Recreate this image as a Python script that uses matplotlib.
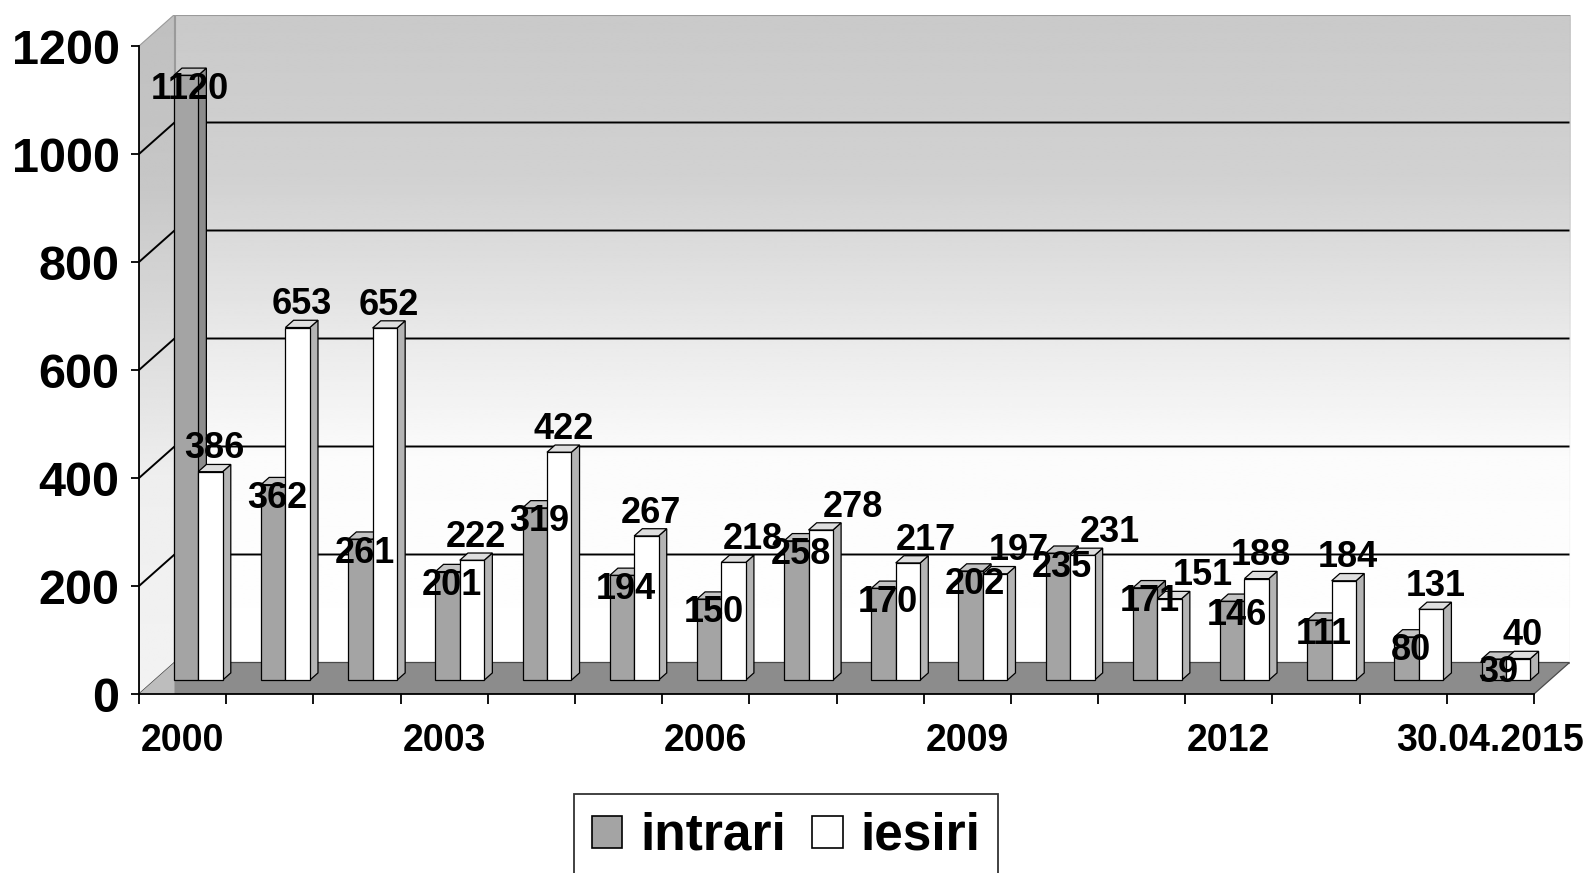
import numpy as np
import matplotlib
matplotlib.use('Agg')
import matplotlib.pyplot as plt
from matplotlib.patches import Polygon, Patch

# ---------------- data ----------------
categories = ['2000', '2001', '2002', '2003', '2004', '2005', '2006', '2007',
              '2008', '2009', '2010', '2011', '2012', '2013', '2014', '30.04.2015']
intrari = [1120, 362, 261, 201, 319, 194, 150, 258, 170, 202, 235, 171, 146, 111, 80, 39]
iesiri = [386, 653, 652, 222, 422, 267, 218, 278, 217, 197, 231, 151, 188, 184, 131, 40]
series_names = ['intrari', 'iesiri']
label_idx = [0, 3, 6, 9, 12, 15]
y_ticks = [0, 200, 400, 600, 800, 1000, 1200]

# horizontal nudges (points) of some 'iesiri' labels, as in the original chart
iesiri_label_nudge = {6: 11, 7: 20, 8: 10, 9: 14, 10: 17, 11: 21}

plt.rcParams['font.family'] = ['Liberation Sans', 'DejaVu Sans']

W, H = 1591, 873
fig = plt.figure(figsize=(W / 100, H / 100), dpi=100)
fig.patch.set_facecolor('white')

n = len(categories)
ymax = y_ticks[-1]
# geometry (pixels)
x_front_l, x_front_r = 139, 1534
y_zero, y_top = 694, 46
depth_px = (35.5, 31.5)
px_x = (x_front_r - x_front_l) / n
px_y = (y_zero - y_top) / ymax
DX = depth_px[0] / px_x
DY = depth_px[1] / px_y

ax_w = (n + DX) * px_x
ax_h = (ymax + DY) * px_y
ax = fig.add_axes([x_front_l / W, (H - y_zero) / H, ax_w / W, ax_h / H])
ax.set_facecolor('none')

# ---------------- walls ----------------
gy = np.linspace(0, ymax, 256)
shade = np.interp(gy, [0, 380, 650, 900, 1200], [1.0, 0.985, 0.90, 0.82, 0.79])
img = np.repeat(shade[:, None], 2, axis=1)
ax.imshow(img, cmap='gray', vmin=0, vmax=1, extent=(DX, n + DX, DY, ymax + DY),
          origin='lower', aspect='auto', interpolation='bilinear', zorder=0)
side_img = ax.imshow(img * 0.95, cmap='gray', vmin=0, vmax=1,
                     extent=(0, DX, 0, ymax + DY), origin='lower', aspect='auto',
                     interpolation='bilinear', zorder=0)
side_poly = Polygon([(0, 0), (DX, DY), (DX, ymax + DY), (0, ymax)], closed=True,
                    fc='none', ec='#9a9a9a', lw=0.8, zorder=0.5)
ax.add_patch(side_poly)
side_img.set_clip_path(side_poly)
ax.add_patch(Polygon([(DX, DY), (n + DX, DY), (n + DX, ymax + DY), (DX, ymax + DY)],
                     closed=True, fc='none', ec='#9a9a9a', lw=0.8, zorder=0.5))

# gridlines (back wall + side wall)
for v in y_ticks[1:-1]:
    ax.plot([0, DX, n + DX], [v, v + DY, v + DY], color='black', lw=1.4,
            zorder=1, solid_capstyle='butt')

# floor
ax.add_patch(Polygon([(0, 0), (n, 0), (n + DX, DY), (DX, DY)], closed=True,
                     fc='#8c8c8c', ec='#4a4a4a', lw=0.9, zorder=1.5))
ax.add_patch(Polygon([(0, 0), (DX, DY), (DX, 0)], closed=True,
                     fc='#bdbdbd', ec='none', lw=0, zorder=1.6))

# ---------------- bars ----------------
f0, fd = 0.44, 0.23
bw, bstart = 0.28, 0.22
ox, oy = f0 * DX, f0 * DY
bx, by = fd * DX, fd * DY
x_pos = np.arange(n)

styles = [
    dict(front='#a4a4a4', side='#8c8c8c', top='#c4c4c4'),
    dict(front='#ffffff', side='#b4b4b4', top='#dedede'),
]
series = [intrari, iesiri]

for i in range(n):
    for s, (vals, st) in enumerate(zip(series, styles)):
        h = vals[i]
        x0 = x_pos[i] + bstart + s * bw + ox
        z = 2 + i * 0.01 + s * 0.004
        side = [(x0 + bw, oy), (x0 + bw + bx, oy + by), (x0 + bw + bx, oy + h + by), (x0 + bw, oy + h)]
        top = [(x0, oy + h), (x0 + bw, oy + h), (x0 + bw + bx, oy + h + by), (x0 + bx, oy + h + by)]
        ax.add_patch(Polygon(side, closed=True, fc=st['side'], ec='black', lw=0.9, zorder=z))
        ax.add_patch(Polygon(top, closed=True, fc=st['top'], ec='black', lw=0.9, zorder=z + 0.001))
        ax.bar(x0, h, width=bw, bottom=oy, align='edge', color=st['front'],
               edgecolor='black', linewidth=0.9, zorder=z + 0.002)

# data labels
for i in range(n):
    xc0 = x_pos[i] + bstart + 0.5 * bw + ox + 0.05
    ax.annotate(str(intrari[i]), (xc0, intrari[i]), ha='center', va='center',
                fontsize=26, fontweight='bold', color='black', zorder=10,
                annotation_clip=False)
    xc1 = x_pos[i] + bstart + 1.5 * bw + ox + 0.05
    ax.annotate(str(iesiri[i]), (xc1, iesiri[i]),
                xytext=(iesiri_label_nudge.get(i, 0), 26.5), textcoords='offset points',
                ha='center', va='center', fontsize=26, fontweight='bold', color='black',
                zorder=10, annotation_clip=False)

# ---------------- axes ----------------
ax.set_xlim(0, n + DX)
ax.set_ylim(0, ymax + DY)
for sp in ['top', 'right']:
    ax.spines[sp].set_visible(False)
ax.spines['left'].set_bounds(0, ymax)
ax.spines['bottom'].set_bounds(0, n)
for sp in ['left', 'bottom']:
    ax.spines[sp].set_linewidth(1.3)
    ax.spines[sp].set_zorder(5)

ax.set_yticks(y_ticks)
ax.set_yticklabels([str(v) for v in y_ticks], fontsize=35, fontweight='bold')
ax.tick_params(axis='y', length=6, width=1.3, pad=8, direction='out')

ax.set_xticks(np.arange(n + 1))
ax.set_xticklabels([])
ax.set_xticks([x_pos[k] + 0.5 for k in label_idx], minor=True)
ax.set_xticklabels([categories[k] for k in label_idx], minor=True, fontsize=27,
                   fontweight='bold')
ax.tick_params(axis='x', which='major', length=7, width=1.3, direction='out')
ax.tick_params(axis='x', which='minor', length=0, pad=21)

# ---------------- legend ----------------
handles = [Patch(facecolor=styles[0]['front'], edgecolor='black', linewidth=1.2),
           Patch(facecolor='white', edgecolor='black', linewidth=1.2)]
leg = fig.legend(handles, series_names, loc='upper center',
                 bbox_to_anchor=(786 / W, 1 - 794 / H), ncol=2, frameon=True,
                 fancybox=False, edgecolor='black',
                 prop=dict(weight='bold', size=37), handlelength=0.6, handleheight=0.6,
                 handletextpad=0.35, columnspacing=0.5, borderpad=0.35, borderaxespad=0)
leg.get_frame().set_linewidth(1.3)

fig.savefig('out.png', dpi=100, facecolor='white')
